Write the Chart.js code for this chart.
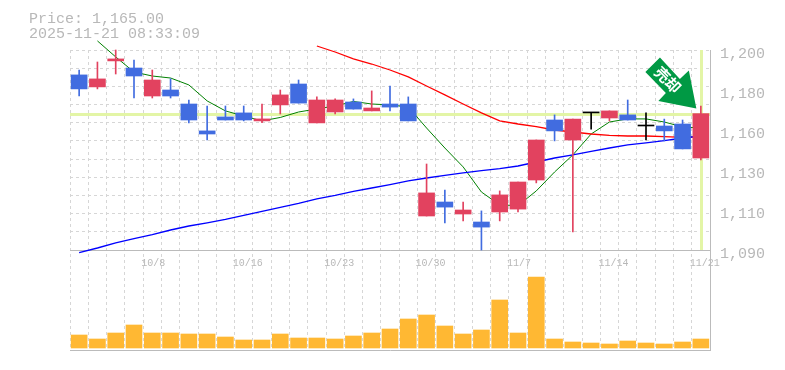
<!DOCTYPE html>
<html><head><meta charset="utf-8">
<style>html,body{margin:0;padding:0;background:#fff}#w{position:relative;width:785px;height:370px}</style>
<script src="https://cdn.jsdelivr.net/npm/chart.js@4/dist/chart.umd.min.js"></script>
</head><body><div id="w"><canvas id="c" width="785" height="370"></canvas></div>
<script>
const titleLines = ['Price: 1,165.00', '2025-11-21 08:33:09'];
const dates = ['10/2','10/3','10/6','10/7','10/8','10/9','10/10','10/14','10/15','10/16','10/17','10/20','10/21','10/22','10/23','10/24','10/27','10/28','10/29','10/30','10/31','11/4','11/5','11/6','11/7','11/10','11/11','11/12','11/13','11/14','11/17','11/18','11/19','11/20','11/21'];
const dateTicks = ['10/8','10/16','10/23','10/30','11/7','11/14','11/21'];
const priceGridTicks = [1090,1100,1110,1120,1130,1140,1150,1160,1170,1180,1190,1200];
const priceLabelTicks = [1090,1112,1134,1156,1178,1200];
const open  = [1186.3,1179.7,1194.0,1190.1,1174.7,1178.0,1170.3,1155.5,1163.2,1165.4,1161.0,1169.8,1181.3,1159.9,1165.9,1171.4,1166.5,1170.3,1170.3,1108.7,1116.4,1109.8,1105.4,1110.9,1112.5,1128.5,1161.5,1150.5,1165.4,1162.6,1164.3,1158.2,1158.2,1159.3,1140.6];
const high  = [1189.0,1193.4,1200.0,1194.5,1189.0,1184.2,1172.5,1169.2,1169.2,1169.2,1170.3,1178.0,1183.5,1174.2,1173.1,1173.1,1177.5,1180.2,1174.2,1137.3,1123.0,1116.4,1111.5,1122.5,1127.4,1150.5,1164.3,1162.0,1165.4,1166.5,1172.5,1165.4,1162.0,1161.5,1169.2];
const low   = [1174.7,1178.6,1186.8,1173.6,1173.6,1173.6,1159.9,1150.5,1161.5,1161.0,1160.0,1164.8,1170.8,1159.9,1164.8,1167.5,1166.5,1166.5,1161.0,1108.7,1104.9,1106.0,1090.0,1106.0,1110.9,1126.9,1150.0,1100.0,1156.5,1161.0,1161.5,1150.5,1150.0,1145.6,1139.5];
const close = [1178.6,1184.1,1195.1,1185.7,1183.5,1174.7,1161.5,1153.8,1161.5,1161.5,1162.1,1175.3,1170.8,1172.5,1172.5,1167.5,1168.1,1168.6,1161.0,1121.4,1113.6,1112.0,1102.6,1120.3,1127.4,1150.5,1155.5,1162.0,1165.4,1166.5,1161.5,1158.2,1155.5,1145.6,1165.0];
const maShort = [null,1205.0,1196.2,1187.9,1185.7,1184.6,1180.8,1172.0,1166.5,1163.7,1161.0,1162.9,1165.9,1167.6,1169.2,1171.7,1170.3,1169.8,1168.7,1157.1,1146.1,1135.7,1121.9,1114.8,1114.4,1122.5,1132.9,1142.3,1153.8,1160.4,1162.1,1162.1,1160.4,1157.7,1157.1];
const maMid = [null,null,null,null,null,null,null,null,null,null,null,null,null,1202.2,1198.9,1195.1,1192.3,1189.0,1185.2,1180.2,1175.3,1170.3,1165.4,1161.0,1159.3,1157.9,1156.0,1154.9,1153.8,1153.0,1152.7,1152.7,1152.4,1151.9,1152.2];
const maLong = [1088.6,1091.1,1093.9,1096.3,1098.5,1101.0,1103.2,1104.9,1106.8,1109.0,1111.2,1113.4,1115.6,1118.1,1120.0,1122.2,1124.1,1126.0,1128.0,1129.6,1131.0,1132.4,1133.7,1134.8,1136.2,1138.4,1140.6,1142.3,1144.2,1146.1,1147.8,1148.9,1150.2,1151.6,1152.7];
const volume = [1300,900,1500,2300,1500,1500,1400,1400,1100,800,800,1400,1000,1000,900,1200,1500,1900,2900,3300,2200,1400,1800,4800,1500,7100,900,600,500,400,700,500,400,600,900];
const lastPrice = 1165;
const signalText = '売却';

const RED='#e2425f', BLUE='#416ce0', BLACK='#000', GRID='#d6d6d6', AXIS='#bbbbbb', TXT='#b8b8b8', HL='#e3f5a6', AMBER='#ffb833';
const candleColor = open.map((o,i)=> close[i]>o ? RED : close[i]<o ? BLUE : BLACK);
const bodies = open.map((o,i)=>[Math.min(o,close[i]),Math.max(o,close[i])]);
const wicks = high.map((h,i)=>[low[i],h]);

const overlay = {
  id:'overlay',
  beforeDatasetsDraw(ch){
    const {ctx,scales:{x,y}}=ch;
    const py=Math.round(y.getPixelForValue(lastPrice)), px=Math.round(x.getPixelForValue(dates.length-1));
    ctx.save();
    ctx.fillStyle=HL;
    ctx.fillRect(ch.chartArea.left,py-1,ch.chartArea.right-ch.chartArea.left,3);
    ctx.fillRect(px-1,y.getPixelForValue(1200),3,y.getPixelForValue(1090)-y.getPixelForValue(1200));
    ctx.restore();
  },
  afterDatasetsDraw(ch){
    const {ctx,scales:{x,y}}=ch;
    const tx=x.getPixelForValue(dates.length-1)-4.5, ty=y.getPixelForValue(high[dates.length-1])+2.5;
    const pts=[[0,0],[-38,-7.5],[-30.5,-15.5],[-51,-36.4],[-36.4,-51],[-16.5,-29.5],[-7.5,-38]];
    ctx.save();
    ctx.fillStyle='#009944';
    ctx.beginPath();
    pts.forEach((p,i)=>i?ctx.lineTo(tx+p[0],ty+p[1]):ctx.moveTo(tx+p[0],ty+p[1]));
    ctx.closePath(); ctx.fill();
    ctx.translate(tx-28.5,ty-28.7);
    ctx.rotate(Math.PI/4);
    ctx.fillStyle='#fff';
    ctx.font='bold 15px "Noto Sans CJK JP"';
    ctx.textAlign='center'; ctx.textBaseline='middle';
    ctx.fillText(signalText,0,0);
    ctx.restore();
  }
};

new Chart(document.getElementById('c'),{
  type:'bar',
  data:{labels:dates,datasets:[
    {type:'line',data:maLong,borderColor:'#0000ff',borderWidth:1.3,pointRadius:0,clip:false,order:5,yAxisID:'y',tension:0},
    {type:'line',data:maMid,borderColor:'#ff0000',borderWidth:1.3,pointRadius:0,clip:false,order:5,yAxisID:'y',tension:0},
    {type:'line',data:maShort,borderColor:'#008000',borderWidth:1,pointRadius:0,clip:false,order:5,yAxisID:'y',tension:0},
    {data:volume,backgroundColor:AMBER,barThickness:16,grouped:false,order:4,yAxisID:'v'},
    {data:wicks,backgroundColor:candleColor,barThickness:1,grouped:false,order:3,yAxisID:'y',clip:false},
    {data:bodies,backgroundColor:candleColor,barThickness:16,minBarLength:1,grouped:false,order:2,yAxisID:'y',clip:false}
  ]},
  options:{
    responsive:false,animation:false,
    layout:{padding:{left:29,right:0,top:0,bottom:20}},
    plugins:{
      legend:{display:false},tooltip:{enabled:false},
      title:{display:true,text:titleLines,align:'start',color:TXT,font:{family:'"Liberation Mono"',size:15,weight:'normal',lineHeight:1},padding:{top:12,bottom:8}}
    },
    scales:{
      x:{type:'category',position:{y:1090},offset:true,
        grid:{color:GRID,offset:true,drawTicks:false,lineWidth:1},
        border:{color:AXIS,dash:[3,3]},
        ticks:{autoSkip:false,maxRotation:0,minRotation:0,align:'start',labelOffset:-11,padding:7,color:TXT,font:{family:'"Liberation Mono"',size:10},
          callback(v){const l=this.getLabelForValue(v);return dateTicks.includes(l)?l:'';}}},
      xBottom:{type:'category',labels:dates,position:'bottom',offset:true,afterFit(s){s.height=0;},grid:{display:false,drawTicks:false},border:{color:AXIS},ticks:{display:false}},
      y:{position:'left',min:1035,max:1200,
        afterFit(s){s.width=41;},
        afterBuildTicks(s){s.ticks=priceGridTicks.map(v=>({value:v}));},
        grid:{color:GRID,drawTicks:false},border:{display:false,dash:[3,3]},ticks:{display:false}},
      yLabel:{position:'right',min:1035,max:1200,
        afterFit(s){s.width=75;},
        afterBuildTicks(s){s.ticks=priceLabelTicks.map(v=>({value:v}));},
        grid:{display:false,drawTicks:false},border:{color:AXIS},
        ticks:{padding:10,labelOffset:4,color:TXT,font:{family:'"Liberation Mono"',size:15},
          callback(v){return (Math.round(v/10)*10).toLocaleString('en-US');}}},
      v:{display:false,min:-200,max:29800}
    }
  },
  plugins:[overlay]
});
</script></body></html>
